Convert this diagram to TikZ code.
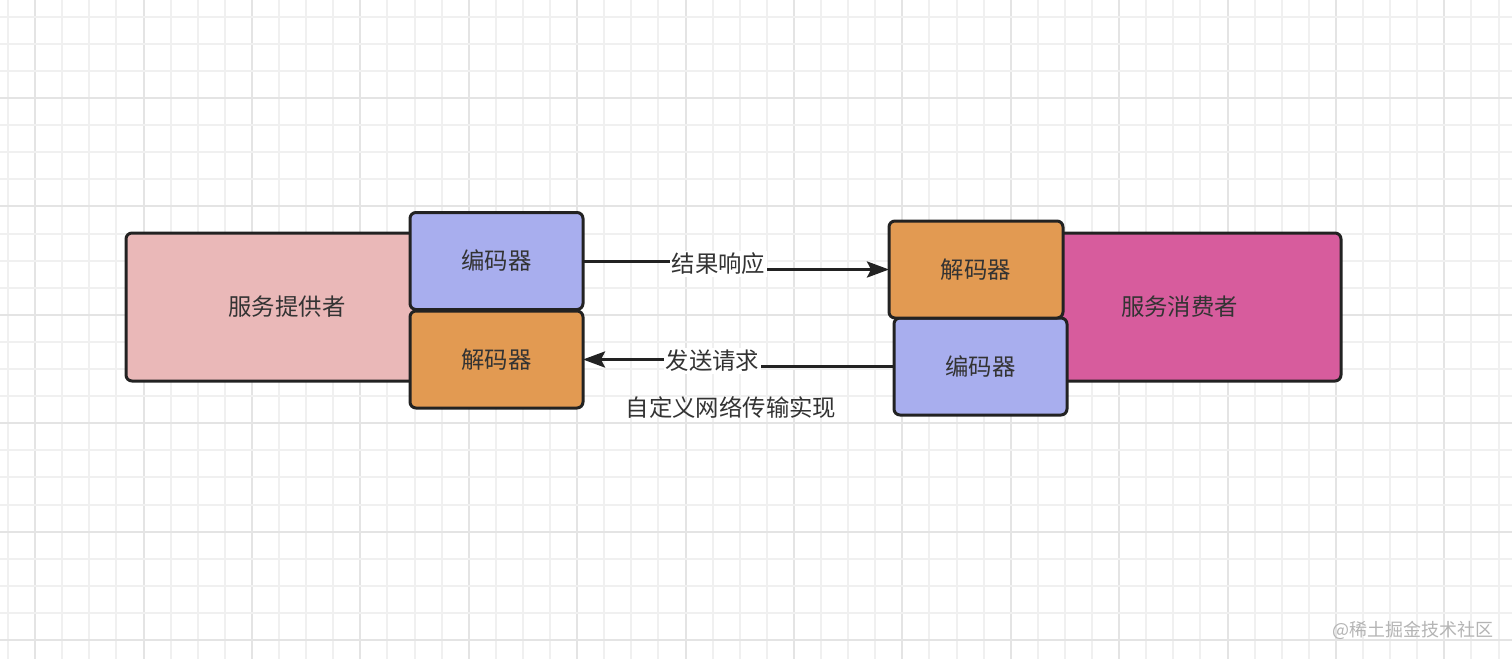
\documentclass[tikz,border=0pt]{standalone}
\usepackage{fontspec}
\setmainfont{Noto Sans CJK SC}
\usetikzlibrary{arrows.meta}
\definecolor{gridlight}{HTML}{F0F0F0}
\definecolor{griddark}{HTML}{E4E4E4}
\definecolor{provfill}{HTML}{EAB8B8}
\definecolor{consfill}{HTML}{D75C9D}
\definecolor{encfill}{HTML}{A8AEEE}
\definecolor{decfill}{HTML}{E29A52}
\definecolor{edge}{HTML}{222222}
\definecolor{txt}{HTML}{333333}
\definecolor{wm}{HTML}{B4B4B4}
\tikzset{
  box/.style={draw=edge, line width=3pt, rounded corners=6pt, inner sep=0pt, outer sep=0pt,
    text=txt, font=\fontsize{23.4}{27}\selectfont},
  coder/.style={box, minimum width=173pt, minimum height=97pt},
  bigbox/.style={box, minimum width=323pt, minimum height=148pt},
  conn/.style={draw=edge, line width=3pt, -{Stealth[length=22pt,width=16pt,inset=4pt]}},
  lbl/.style={fill=white, text=txt, inner sep=2pt, font=\fontsize{23.4}{27}\selectfont},
  captext/.style={text=txt, inner sep=0pt, font=\fontsize{23.4}{27}\selectfont},
  wmark/.style={text=wm, inner sep=0pt, font=\fontsize{18}{22}\selectfont}
}
\begin{document}
\begin{tikzpicture}[x=1pt, y=-1pt]
\useasboundingbox (0,0) rectangle (1512,659);
\fill[white] (0,0) rectangle (1512,659);
% grid
\foreach \n in {-1,...,54}{
  \pgfmathsetmacro{\xx}{35.1+27.1*\n}
  \pgfmathtruncatemacro{\md}{mod(\n+400,4)}
  \ifnum\md=0
    \draw[griddark, line width=2pt] (\xx,0) -- (\xx,659);
  \else
    \draw[gridlight, line width=2pt] (\xx,0) -- (\xx,659);
  \fi
}
\foreach \m in {-4,...,21}{
  \pgfmathsetmacro{\yy}{98+27.1*\m}
  \pgfmathtruncatemacro{\md}{mod(\m+400,4)}
  \ifnum\md=0
    \draw[griddark, line width=2pt] (0,\yy) -- (1512,\yy);
  \else
    \draw[gridlight, line width=2pt] (0,\yy) -- (1512,\yy);
  \fi
}
% provider side
\node[bigbox, fill=provfill, minimum width=322pt] (prov) at (287,307) {服务提供者};
\node[coder, fill=encfill] (encL) at (496.5,261) {编码器};
\node[coder, fill=decfill] (decL) at (496.5,359.5) {解码器};
% consumer side
\node[bigbox, fill=consfill] (cons) at (1179.5,307) {服务消费者};
\node[coder, fill=encfill] (encR) at (980.5,366.5) {编码器};
\node[coder, fill=decfill, minimum width=174pt] (decR) at (976,269.5) {解码器};
% connectors
\coordinate (m1) at (720,0);
\coordinate (m2) at (713,0);
\draw[conn] (encL.east) -| (m1 |- encL.east) |- (decR.west);
\node[lbl] (l1) at (718.5,264) {结果响应};
\draw[conn] (encR.west) -| (m2 |- encR.west) |- (decL.east);
\node[lbl] (l2) at (712.5,361) {发送请求};
\node[captext] (c1) at (731,407) {自定义网络传输实现};
\node[wmark] (w1) at (1413,630) {@稀土掘金技术社区};
\end{tikzpicture}
\end{document}
